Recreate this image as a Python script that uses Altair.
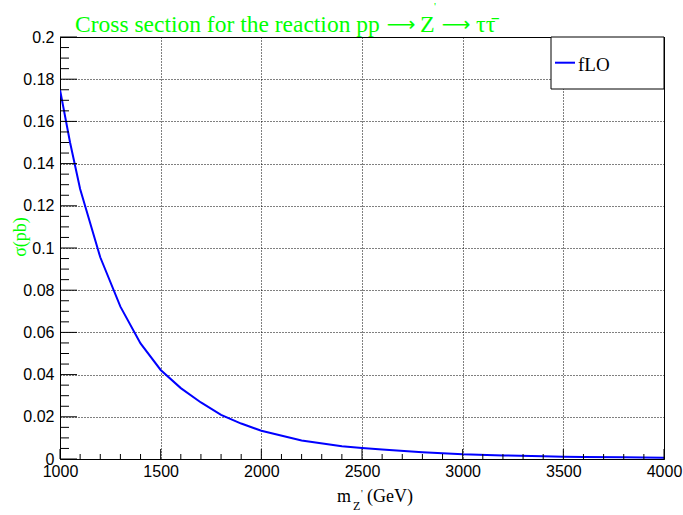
import altair as alt
import pandas as pd

# ---- data ----
mass = [1000, 1050, 1100, 1200, 1300, 1400, 1500, 1600, 1700, 1800, 1900, 2000,
        2200, 2400, 2500, 2600, 2800, 3000, 3200, 3400, 3500, 3600, 3800, 4000]
xsec = [0.175, 0.150, 0.128, 0.0956, 0.0722, 0.0548, 0.0422, 0.0336, 0.0268, 0.0209, 0.0168, 0.0134,
        0.0088, 0.0060, 0.0052, 0.0045, 0.0032, 0.0022, 0.0017, 0.0013, 0.0011, 0.0010, 0.0008, 0.0006]

x_major = [1000, 1500, 2000, 2500, 3000, 3500, 4000]
x_minor = [1100, 1200, 1300, 1400, 1600, 1700, 1800, 1900, 2100, 2200, 2300, 2400,
           2600, 2700, 2800, 2900, 3100, 3200, 3300, 3400, 3600, 3700, 3800, 3900]
y_major = [0, 0.02, 0.04, 0.06, 0.08, 0.1, 0.12, 0.14, 0.16, 0.18, 0.2]
y_minor = [0.005, 0.01, 0.015, 0.025, 0.03, 0.035, 0.045, 0.05, 0.055, 0.065, 0.07, 0.075,
           0.085, 0.09, 0.095, 0.105, 0.11, 0.115, 0.125, 0.13, 0.135, 0.145, 0.15, 0.155,
           0.165, 0.17, 0.175, 0.185, 0.19, 0.195]

W, H = 604, 422
GREEN = "#00ff00"
SERIF = "Liberation Serif"
SANS = "Liberation Sans"

xscale = alt.Scale(domain=[1000, 4000], nice=False, zero=False)
yscale = alt.Scale(domain=[0, 0.2], nice=False, zero=False)

df = pd.DataFrame({"mass": mass, "xsec": xsec})

line = alt.Chart(df).mark_line(color="#0000ff", strokeWidth=2, clip=True).encode(
    x=alt.X("mass:Q", scale=xscale,
            axis=alt.Axis(title="", values=x_major, grid=True, gridDash=[1, 2], gridColor="black",
                          gridOpacity=1, ticks=False, tickSize=0, domain=False,
                          labelFont=SANS, labelFontSize=16, labelColor="black",
                          labelPadding=4, labelOverlap=False, labelFlush=False, format="d")),
    y=alt.Y("xsec:Q", scale=yscale,
            axis=alt.Axis(title="", values=y_major, grid=True, gridDash=[1, 2], gridColor="black",
                          gridOpacity=1, ticks=False, tickSize=0, domain=False,
                          labelFont=SANS, labelFontSize=16, labelColor="black",
                          labelPadding=6, labelOverlap=False, labelFlush=False, format="~g")),
)

xmaj = alt.Chart(pd.DataFrame({"mass": x_major})).mark_rule(color="black", strokeWidth=1).encode(
    x=alt.X("mass:Q", scale=xscale), y=alt.value(H), y2=alt.value(H - 10))
xmin = alt.Chart(pd.DataFrame({"mass": x_minor})).mark_rule(color="black", strokeWidth=1).encode(
    x=alt.X("mass:Q", scale=xscale), y=alt.value(H), y2=alt.value(H - 5))
ymaj = alt.Chart(pd.DataFrame({"xsec": y_major})).mark_rule(color="black", strokeWidth=1).encode(
    y=alt.Y("xsec:Q", scale=yscale), x=alt.value(0), x2=alt.value(17))
ymin = alt.Chart(pd.DataFrame({"xsec": y_minor})).mark_rule(color="black", strokeWidth=1).encode(
    y=alt.Y("xsec:Q", scale=yscale), x=alt.value(0), x2=alt.value(9))

one = pd.DataFrame({"k": [0]})

def txt(text, x, y, size, color="black", font=SERIF, align="left", baseline="alphabetic", angle=0):
    kw = dict(text=text, font=font, fontSize=size, color=color, align=align, baseline=baseline)
    if angle:
        kw["angle"] = angle
    return alt.Chart(one).mark_text(**kw).encode(x=alt.value(x), y=alt.value(y))

# legend box
leg_box = alt.Chart(one).mark_rect(fill="white", stroke="black", strokeWidth=1).encode(
    x=alt.value(491), x2=alt.value(604), y=alt.value(0), y2=alt.value(52))
leg_line = alt.Chart(one).mark_rule(color="#0000ff", strokeWidth=2).encode(
    x=alt.value(495), x2=alt.value(515), y=alt.value(25.7))
leg_text = txt("fLO", 518, 33.7, 19)

# title pieces
t1 = txt("Cross section for the reaction pp", 15, -5.3, 23.5, GREEN)
a1 = txt("\u27f6", 341, -5.6, 20, GREEN, font="DejaVu Sans", align="center")
tz = txt("Z", 360, -5.3, 24, GREEN)
tp = txt("'", 374, -27, 11, GREEN)
a2 = txt("\u27f6", 396, -5.6, 20, GREEN, font="DejaVu Sans", align="center")
tt = txt("\u03c4\u03c4\u0304", 416, -5.3, 24, GREEN)

# axis titles
xt1 = txt("m", 277, 465, 18)
xt2 = txt("Z", 293, 473, 12)
xt3 = txt("'", 301, 460, 10)
xt4 = txt("(GeV)", 307, 465, 18)
yt = txt("\u03c3(pb)", -39, 200, 18, GREEN, align="center", baseline="middle", angle=270)

chart = alt.layer(
    line, xmaj, xmin, ymaj, ymin, leg_box, leg_line, leg_text,
    t1, a1, tz, tp, a2, tt, xt1, xt2, xt3, xt4, yt
).properties(
    width=W, height=H,
    autosize=alt.AutoSizeParams(type="none"),
    padding={"left": 60, "top": 37, "right": 19, "bottom": 56},
    background="white",
).configure_view(stroke="black", strokeWidth=1)

chart.save("out.html", embed_options={"renderer": "svg", "actions": False})
